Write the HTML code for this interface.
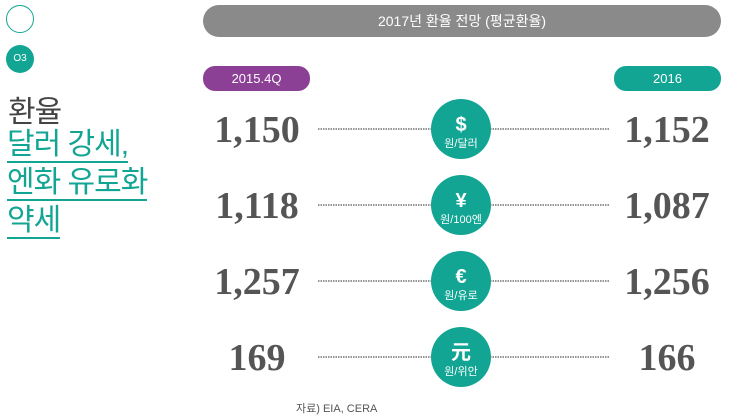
<!DOCTYPE html>
<html><head><meta charset="utf-8"><style>
body{margin:0;width:741px;height:420px;background:#fff;overflow:hidden;font-family:"Liberation Sans","Noto Sans CJK KR",sans-serif;position:relative}
.a{position:absolute}
.ul{color:#12a594;border-bottom:2px solid #12a594;line-height:33px;font-size:30px;letter-spacing:-1px}
</style></head><body>
<div class="a" style="left:6px;top:5px;width:26px;height:26px;border:1.5px solid #12a594;border-radius:50%"></div>
<div class="a" style="left:6px;top:45px;width:28px;height:28px;background:#12a594;border-radius:50%;color:#fff;font-size:10px;text-align:center;line-height:28px">O3</div>
<div class="a" style="left:8px;top:87px;font-size:30px;color:#444;letter-spacing:-1px">환율</div>
<div class="a ul" style="left:7px;top:128px">달러 강세,</div>
<div class="a ul" style="left:7px;top:166px">엔화 유로화</div>
<div class="a ul" style="left:7px;top:204px">약세</div>
<div class="a" style="left:203px;top:5px;width:518px;height:32px;background:#8a8a8a;border-radius:16px;color:#fff;font-size:14px;text-align:center;line-height:32px">2017년 환율 전망 (평균환율)</div>
<div class="a" style="left:203px;top:66px;width:107px;height:25px;background:#8b3f95;border-radius:12px;color:#fff;font-size:13px;text-align:center;line-height:25px">2015.4Q</div>
<div class="a" style="left:614px;top:66px;width:107px;height:25px;background:#12a594;border-radius:12px;color:#fff;font-size:13px;text-align:center;line-height:25px">2016</div>
<svg class="a" style="left:0;top:0" width="741" height="420" id="chart"></svg>
<div class="a" style="left:296px;top:400px;font-size:11px;color:#555">자료) EIA, CERA</div>
<script>
const symbols=["$","¥","€","元"];
const units=["원/달러","원/100엔","원/유로","원/위안"];
const values2015=["1,150","1,118","1,257","169"];
const values2016=["1,152","1,087","1,256","166"];
const svg=document.getElementById('chart');
const NS="http://www.w3.org/2000/svg";
function mk(t,a,txt){const e=document.createElementNS(NS,t);for(const k in a)e.setAttribute(k,a[k]);if(txt!==undefined)e.textContent=txt;svg.appendChild(e);return e;}
function rowY(i){return 129+i*76;}
symbols.forEach((s,i)=>{
 const y=rowY(i);
 let e=mk('line',{x1:318,x2:432,y1:y,y2:y,stroke:'#555','stroke-width':1.2,'stroke-dasharray':'1.5 1'});
 
 
 e=mk('line',{x1:490,x2:610,y1:y,y2:y,stroke:'#555','stroke-width':1.2,'stroke-dasharray':'1.5 1'});
 
 
 e=mk('circle',{cx:461,cy:y,r:30,fill:'#12a594'});
 
 
 e=mk('text',{x:461,y:y+2,'text-anchor':'middle','font-size':20,'font-weight':'bold',fill:'#fff','font-family':'Liberation Sans, Noto Sans CJK KR, sans-serif'},s);
 
 
 e=mk('text',{x:461,y:y+18,'text-anchor':'middle','font-size':11,fill:'#fff','font-family':'Liberation Sans, Noto Sans CJK KR, sans-serif'},units[i]);
 
 
 e=mk('text',{x:257,y:y+13,'text-anchor':'middle','font-size':38,'font-weight':'bold',fill:'#555','font-family':'Liberation Serif, serif'},values2015[i]);
 
 
 e=mk('text',{x:667,y:y+13,'text-anchor':'middle','font-size':38,'font-weight':'bold',fill:'#555','font-family':'Liberation Serif, serif'},values2016[i]);
 
 
});
</script>
</body></html>
